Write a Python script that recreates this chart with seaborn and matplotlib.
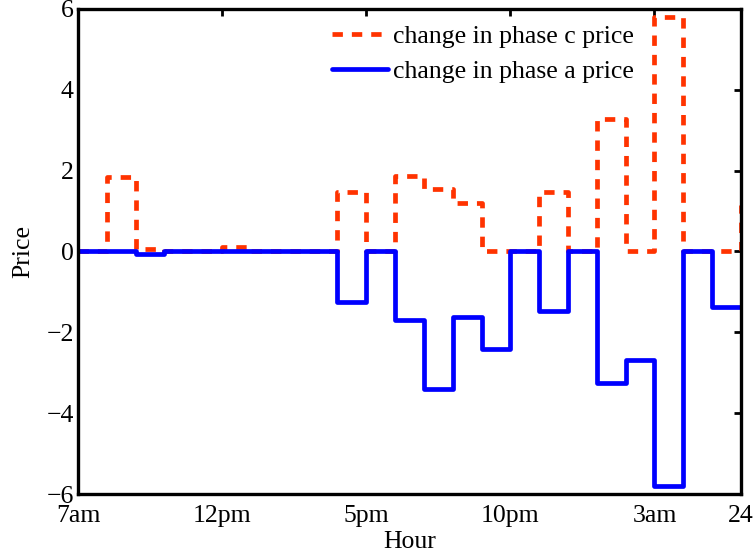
import matplotlib
matplotlib.use("Agg")
import matplotlib.pyplot as plt
import seaborn as sns
import pandas as pd

# Hourly price changes (value holds from each hour to the next)
hours = list(range(1, 25))
phase_c_change = [0, 1.84, 0.05, 0, 0, 0.11, 0, 0, 0, 1.48, 0, 1.87,
                  1.55, 1.2, 0, 0, 1.48, 0, 3.28, 0, 5.8, 0, 0, 1.15]
phase_a_change = [0, 0, -0.05, 0, 0, 0, 0, 0, 0, -1.25, 0, -1.7,
                  -3.4, -1.62, -2.42, 0, -1.47, 0, -3.26, -2.69, -5.8, 0, -1.38, -1.38]

tick_pos = [1, 6, 11, 16, 21, 24]
tick_labels = ["7am", "12pm", "5pm", "10pm", "3am", "24"]
y_ticks = [-6, -4, -2, 0, 2, 4, 6]

sns.set_theme(style="white")
plt.rcParams["font.family"] = ["Liberation Serif", "DejaVu Serif"]
plt.rcParams["axes.unicode_minus"] = True
plt.rcParams["text.color"] = "black"
plt.rcParams["axes.labelcolor"] = "black"

df = pd.DataFrame({"hour": hours, "c": phase_c_change, "a": phase_a_change})

fig = plt.figure(figsize=(7.53, 5.57), dpi=100)
ax = fig.add_axes([0.1036, 0.113, 0.8804, 0.871])

sns.lineplot(data=df, x="hour", y="c", ax=ax, drawstyle="steps-post",
             color="#FF3300", lw=3.4, linestyle=(0, (2.2, 1.9)),
             label="change in phase c price")
sns.lineplot(data=df, x="hour", y="a", ax=ax, drawstyle="steps-post",
             color="#0000FF", lw=3.4, label="change in phase a price")

ax.set_xlim(1, 24)
ax.set_ylim(-6, 6)
ax.set_xticks(tick_pos)
ax.set_xticklabels(tick_labels)
ax.set_yticks(y_ticks)
ax.set_xlabel("Hour", fontsize=18.5, labelpad=3, color="black")
ax.set_ylabel("Price", fontsize=18.5, labelpad=8.5, color="black")

for sp in ax.spines.values():
    sp.set_visible(True)
    sp.set_color("black")
    sp.set_linewidth(2.4)
ax.tick_params(axis="both", which="major", direction="in", length=5, width=2,
               top=True, right=True, labelsize=18.5, colors="black")
ax.tick_params(axis="x", pad=8)
ax.tick_params(axis="y", pad=3)

leg = ax.legend(loc="upper left", bbox_to_anchor=(0.383, 0.966), frameon=False,
                fontsize=18.5, handlelength=2.18, handletextpad=0.2,
                labelspacing=0.47, borderpad=0, borderaxespad=0)
for t in leg.get_texts():
    t.set_color("black")

fig.savefig("out.png", dpi=100)
